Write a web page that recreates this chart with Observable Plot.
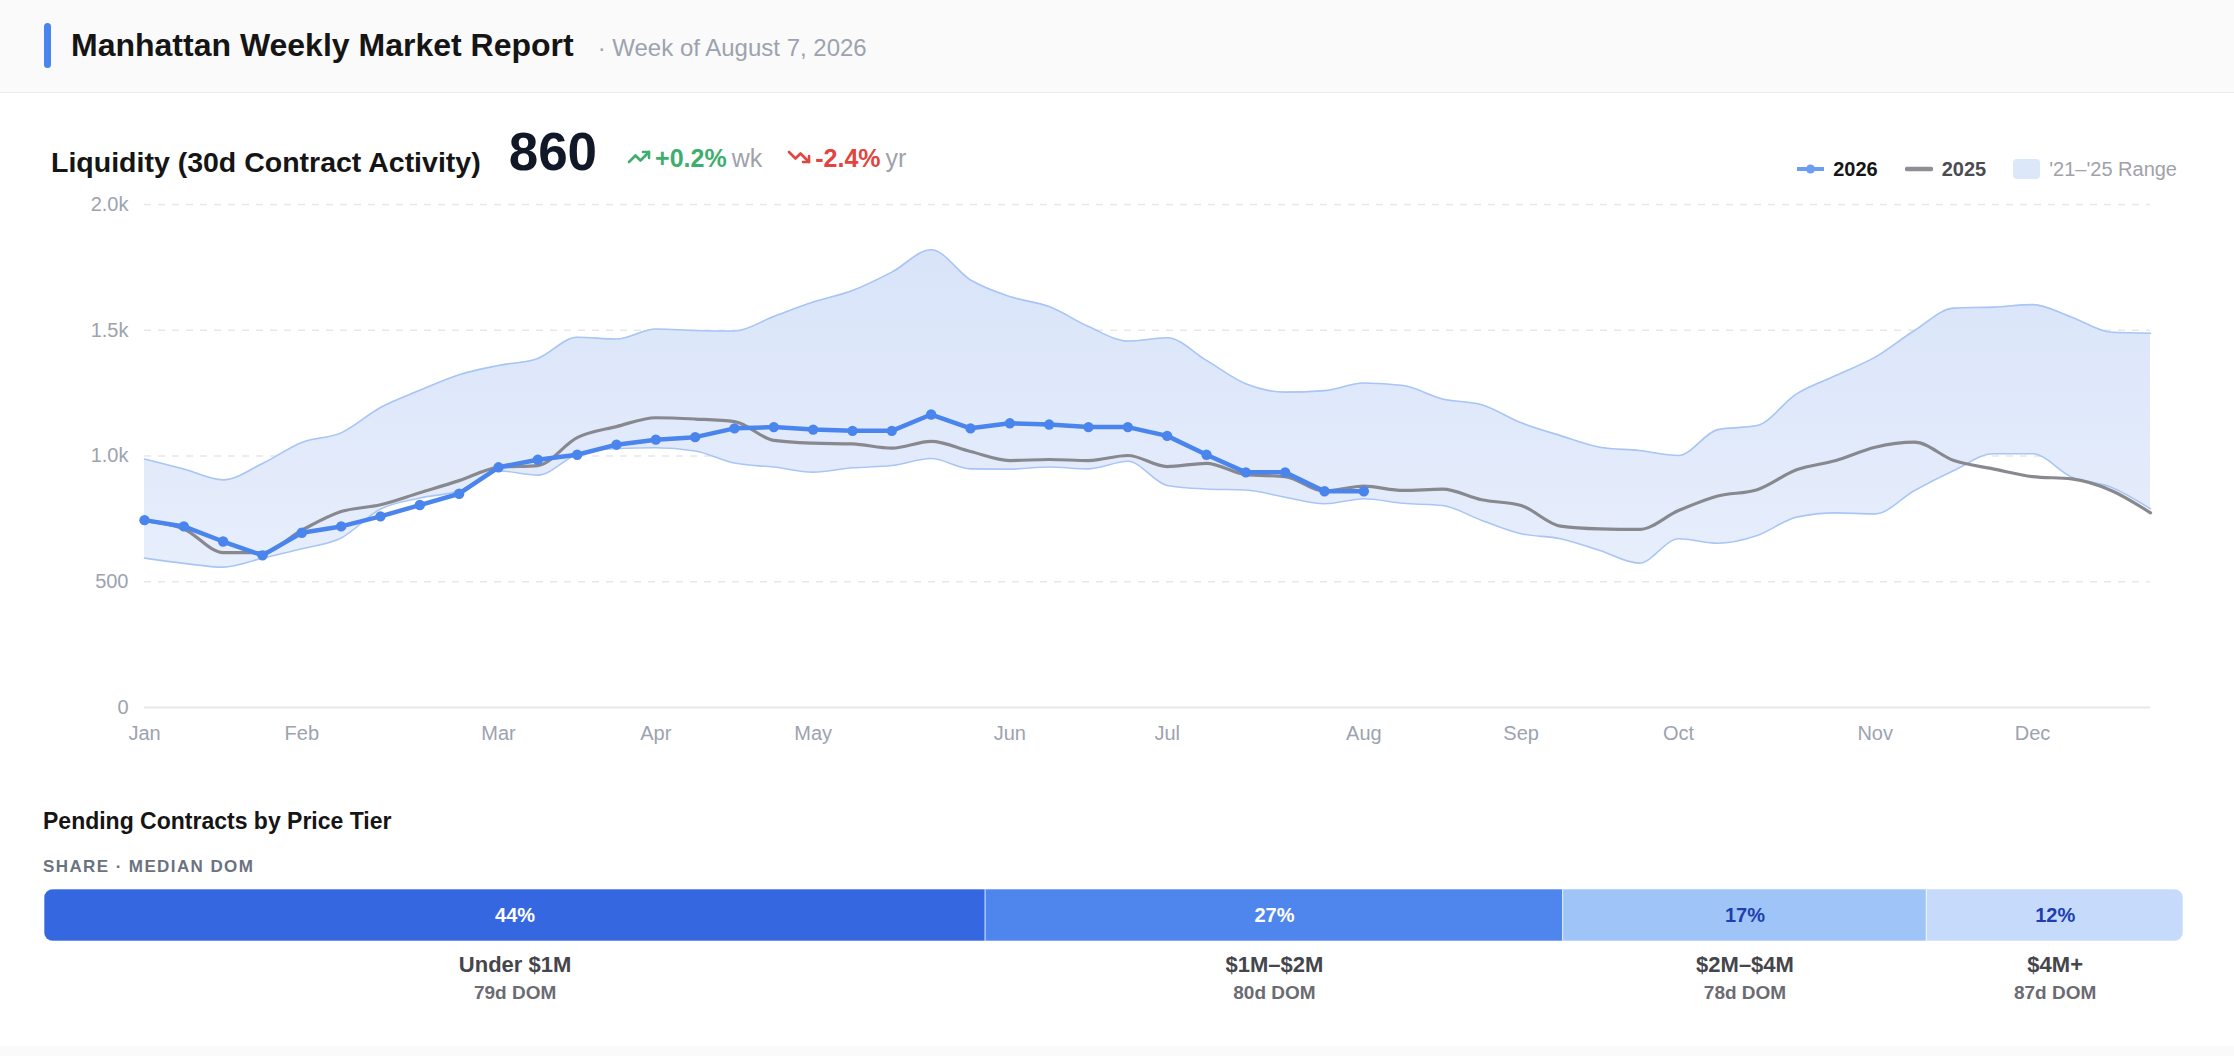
<!DOCTYPE html>
<html>
<head>
<meta charset="utf-8">
<script src="https://cdn.jsdelivr.net/npm/d3@7"></script>
<script src="https://cdn.jsdelivr.net/npm/@observablehq/plot@0.6"></script>
<style>
  html, body { margin: 0; padding: 0; }
  body { width: 2234px; height: 1056px; position: relative; overflow: hidden; background: #fff;
         font-family: "Liberation Sans", Arial, Helvetica, sans-serif; }
  .abs { position: absolute; }
  #header { left: 0; top: 0; width: 2234px; height: 92px; background: #fafafa; border-bottom: 1px solid #ededed; }
  #accent { left: 44px; top: 23px; width: 7px; height: 45px; border-radius: 4px; background: #4a85ee; }
  #title { left: 71px; top: 27px; font-size: 32px; font-weight: bold; color: #151515; white-space: nowrap; }
  #title span { font-size: 24px; font-weight: normal; color: #9ca3af; margin-left: 24px; }
  #kpi { left: 51px; top: 121px; height: 70px; display: flex; align-items: baseline; white-space: nowrap; }
  #kpi .t { font-size: 28.5px; font-weight: bold; color: #151515; margin-right: 28px; position: relative; top: 2px; }
  #kpi .big { font-size: 53px; font-weight: bold; color: #111827; margin-right: 30px; }
  #kpi .chg { display: flex; align-items: baseline; font-size: 25px; margin-right: 25px; position: relative; top: -3px; }
  #kpi .chg svg { position: relative; top: 2px; }
  #kpi .chg b { margin-left: 4px; }
  #kpi .chg .u { color: #a1a1aa; margin-left: 5px; }
  #legend { right: 57px; top: 155px; height: 28px; display: flex; align-items: center; font-size: 20px; white-space: nowrap; }
  #legend .sw { margin-right: 9px; }
  #legend .lab { margin-right: 27px; }
  #chart { left: 0; top: 190px; }
  #barwrap { left: 44px; top: 889px; width: 2139px; height: 52px; border-radius: 9px; overflow: hidden; }
  #barlabels { left: 44px; top: 945px; }
  #sec { left: 43px; top: 808px; font-size: 23px; font-weight: bold; color: #151515; }
  #sub { left: 43px; top: 857px; font-size: 17px; font-weight: bold; color: #6b7280; letter-spacing: 1.4px; }
  #footer { left: 0; top: 1046px; width: 2234px; height: 10px; background: #fafafa; }
</style>
</head>
<body>
<div id="header" class="abs"></div>
<div id="accent" class="abs"></div>
<div id="title" class="abs">Manhattan Weekly Market Report<span>· Week of August 7, 2026</span></div>

<div id="kpi" class="abs">
  <span class="t">Liquidity (30d Contract Activity)</span>
  <span class="big">860</span>
  <span class="chg" style="color:#3dae6e">
    <svg width="24" height="24" viewBox="0 0 24 24" fill="none" stroke="#3dae6e" stroke-width="2.6" stroke-linecap="round" stroke-linejoin="round"><polyline points="22 7 13.5 15.5 8.5 10.5 2 17"/><polyline points="16 7 22 7 22 13"/></svg>
    <b>+0.2%</b><span class="u">wk</span>
  </span>
  <span class="chg" style="color:#e0463f">
    <svg width="24" height="24" viewBox="0 0 24 24" fill="none" stroke="#e0463f" stroke-width="2.6" stroke-linecap="round" stroke-linejoin="round"><polyline points="22 17 13.5 8.5 8.5 13.5 2 7"/><polyline points="16 17 22 17 22 11"/></svg>
    <b>-2.4%</b><span class="u">yr</span>
  </span>
</div>

<div id="legend" class="abs">
  <svg class="sw" width="27" height="12"><line x1="0" y1="6" x2="27" y2="6" stroke="#6b9ef3" stroke-width="4" stroke-linecap="round"/><circle cx="13.5" cy="6" r="4.5" fill="#6b9ef3"/></svg>
  <span class="lab" style="font-weight:bold;color:#151515">2026</span>
  <svg class="sw" width="28" height="12"><line x1="2" y1="6" x2="26" y2="6" stroke="#8e8e93" stroke-width="4.5" stroke-linecap="round"/></svg>
  <span class="lab" style="font-weight:bold;color:#4b4b52">2025</span>
  <svg class="sw" width="27" height="20"><rect x="0" y="0" width="27" height="20" rx="4" fill="#dde7fa"/></svg>
  <span style="color:#a1a1aa">'21–'25 Range</span>
</div>

<div id="chart" class="abs"></div>

<div id="sec" class="abs">Pending Contracts by Price Tier</div>
<div id="sub" class="abs">SHARE · MEDIAN DOM</div>
<div id="barwrap" class="abs"></div>
<div id="barlabels" class="abs"></div>
<div id="footer" class="abs"></div>

<script>
// ---------- Data ----------
const weeks = d3.range(52); // week index of the year (x positions)
const monthWeeks = [0, 4, 9, 13, 17, 22, 26, 31, 35, 39, 44, 48];
const monthLabels = ["Jan","Feb","Mar","Apr","May","Jun","Jul","Aug","Sep","Oct","Nov","Dec"];
const yTicks = [0, 500, 1000, 1500, 2000];
const yTickLabels = ["0", "500", "1.0k", "1.5k", "2.0k"];

const values2026 = [745,720,660,605,695,720,760,805,850,955,985,1005,1045,1065,1075,1110,
                    1115,1105,1100,1100,1165,1110,1130,1125,1115,1115,1080,1005,935,935,860,860];
const values2025 = [743,710,616,616,705,779,806,854,902,955,962,1073,1117,1152,1147,1137,
                    1062,1051,1048,1031,1058,1018,982,986,982,1002,958,971,926,918,860,880,
                    863,868,826,803,721,710,708,783,841,866,945,982,1035,1055,982,949,918,909,863,774];
const rangeLow = [594,573,558,594,631,674,789,833,862,941,924,1006,1030,1033,1020,972,
                  956,936,953,962,990,949,948,956,949,979,883,869,865,836,810,830,
                  812,803,744,691,671,624,574,671,653,684,757,774,770,863,942,1009,1009,916,876,790];
const rangeHigh = [988,948,905,970,1054,1092,1193,1261,1323,1360,1388,1472,1465,1505,1499,1497,
                   1555,1612,1658,1731,1820,1700,1634,1594,1515,1457,1470,1380,1287,1254,1260,1290,
                   1280,1227,1204,1132,1081,1035,1022,1002,1105,1121,1247,1320,1393,1499,1588,1592,1602,1552,1492,1488];

const tierNames = ["Under $1M", "$1M–$2M", "$2M–$4M", "$4M+"];
const tierShares = [44, 27, 17, 12];
const tierDOM = [79, 80, 78, 87];
const tierColors = ["#3467e0", "#4f86ee", "#9fc5f8", "#c6dbfb"];
const tierTextColors = ["#ffffff", "#ffffff", "#1f3fae", "#1f3fae"];

// ---------- Tables ----------
const rangeData = weeks.map(w => ({w, lo: rangeLow[w], hi: rangeHigh[w]}));
const d2025 = weeks.map(w => ({w, v: values2025[w]}));
const d2026 = values2026.map((v, w) => ({w, v}));
const tiers = tierNames.map((name, i) => ({name, share: tierShares[i], dom: tierDOM[i],
                                            color: tierColors[i], tcolor: tierTextColors[i]}));

const FONT = "Liberation Sans, Arial, Helvetica, sans-serif";

// ---------- Main chart ----------
const chart = Plot.plot({
  width: 2234, height: 560,
  marginTop: 14, marginBottom: 43, marginLeft: 144, marginRight: 84,
  style: {fontFamily: FONT, fontSize: "20px", color: "#9ca3af", background: "transparent", overflow: "visible"},
  x: {domain: [0, 51], ticks: monthWeeks, tickFormat: d => monthLabels[monthWeeks.indexOf(d)],
      tickSize: 0, tickPadding: 18, label: null},
  y: {domain: [0, 2000], ticks: yTicks, tickFormat: d => yTickLabels[yTicks.indexOf(d)],
      tickSize: 0, tickPadding: 16, label: null},
  marks: [
    Plot.ruleY(yTicks.filter(d => d > 0), {stroke: "#e6e8ec", strokeDasharray: "7,7", strokeWidth: 1.5}),
    Plot.areaY(rangeData, {x: "w", y1: "lo", y2: "hi", curve: "monotone-x", fill: "url(#bandGrad)"}),
    Plot.lineY(rangeData, {x: "w", y: "hi", curve: "monotone-x", stroke: "#a8c5f5", strokeWidth: 1.6}),
    Plot.lineY(rangeData, {x: "w", y: "lo", curve: "monotone-x", stroke: "#a8c5f5", strokeWidth: 1.6}),
    Plot.ruleY([0], {stroke: "#e5e7eb", strokeWidth: 2}),
    Plot.lineY(d2025, {x: "w", y: "v", curve: "monotone-x", stroke: "#88888f", strokeWidth: 3.2}),
    Plot.lineY(d2026, {x: "w", y: "v", stroke: "#4a85ee", strokeWidth: 4.5, strokeLinejoin: "round"}),
    Plot.dot(d2026, {x: "w", y: "v", r: 5.2, fill: "#4a85ee"})
  ]
});
// gradient definition for the range band
const ns = "http://www.w3.org/2000/svg";
const defs = document.createElementNS(ns, "defs");
defs.innerHTML = '<linearGradient id="bandGrad" x1="0" y1="0" x2="0" y2="1">' +
  '<stop offset="0" stop-color="#d9e4f9"/><stop offset="1" stop-color="#e7eefc"/></linearGradient>';
chart.insertBefore(defs, chart.firstChild);
document.getElementById("chart").appendChild(chart);

// ---------- Stacked price tier bar ----------
const bar = Plot.plot({
  width: 2139, height: 52, margin: 0,
  style: {fontFamily: FONT, background: "transparent"},
  x: {domain: [0, 100], axis: null},
  color: {type: "identity"},
  marks: [
    Plot.barX(tiers, {x: "share", fill: "color", stroke: "#ffffff", strokeOpacity: 0.6, strokeWidth: 1}),
    Plot.text(tiers, Plot.stackX({x: "share", text: d => d.share + "%", fill: "tcolor",
      fontSize: 20, fontWeight: "bold", frameAnchor: "middle"}))
  ]
});
document.getElementById("barwrap").appendChild(bar);

const labels = Plot.plot({
  width: 2139, height: 70, margin: 0,
  style: {fontFamily: FONT, background: "transparent"},
  x: {domain: [0, 100], axis: null},
  marks: [
    Plot.text(tiers, Plot.stackX({x: "share", text: "name", frameAnchor: "top", dy: 11,
      fontSize: 22, fontWeight: "bold", fill: "#45454c"})),
    Plot.text(tiers, Plot.stackX({x: "share", text: d => d.dom + "d DOM", frameAnchor: "top", dy: 40,
      fontSize: 19, fontWeight: "bold", fill: "#6b6b72"}))
  ]
});
document.getElementById("barlabels").appendChild(labels);
</script>
</body>
</html>
